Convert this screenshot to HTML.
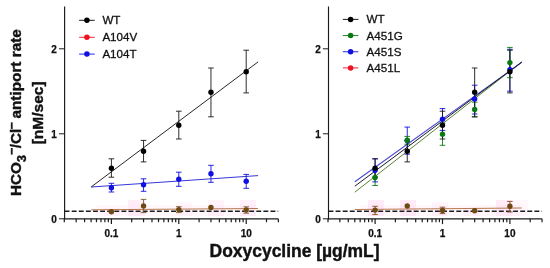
<!DOCTYPE html>
<html><head><meta charset="utf-8"><title>chart</title>
<style>
html,body{margin:0;padding:0;background:#fff}
svg{display:block}
text{font-family:"Liberation Sans",Arial,sans-serif;fill:#111}
.tk{font-size:10px;font-weight:bold;stroke:#111;stroke-width:0.25px}
.lg{font-size:11.6px;stroke:#111;stroke-width:0.3px}
.yl{font-size:15.3px;font-weight:bold;stroke:#111;stroke-width:0.4px}
.sb{font-size:12.4px}
.xl{font-size:17.45px;font-weight:bold;stroke:#111;stroke-width:0.4px}
</style></head><body>
<svg width="550" height="268" viewBox="0 0 550 268">
<rect width="550" height="268" fill="#fff"/>
<rect x="96" y="205" width="160" height="11" fill="#ffd9f0" opacity="0.22"/>
<rect x="128" y="200" width="17" height="16" fill="#ffd9f0" opacity="0.45"/>
<rect x="240" y="200" width="16" height="16" fill="#ffd9f0" opacity="0.4"/>
<rect x="104" y="208" width="16" height="8" fill="#ffd9f0" opacity="0.2"/>
<rect x="176" y="202" width="16" height="14" fill="#ffd9f0" opacity="0.2"/>
<rect x="208" y="200" width="16" height="16" fill="#ffd9f0" opacity="0.3"/>
<rect x="360" y="205" width="160" height="11" fill="#ffd9f0" opacity="0.2"/>
<rect x="368" y="200" width="16" height="16" fill="#ffd9f0" opacity="0.5"/>
<rect x="400" y="200" width="16" height="16" fill="#ffd9f0" opacity="0.5"/>
<rect x="496" y="200" width="16" height="16" fill="#ffd9f0" opacity="0.5"/>
<rect x="512" y="200" width="16" height="16" fill="#ffd9f0" opacity="0.2"/>
<rect x="432" y="202" width="16" height="14" fill="#ffd9f0" opacity="0.25"/>
<rect x="464" y="208" width="16" height="8" fill="#ffd9f0" opacity="0.25"/>
<line x1="64.6" y1="6.5" x2="64.6" y2="219.3" stroke="#1a1a1a" stroke-width="1.15"/>
<line x1="64.1" y1="218.8" x2="278.2" y2="218.8" stroke="#1a1a1a" stroke-width="1.25"/>
<line x1="58.99999999999999" y1="218.8" x2="64.6" y2="218.8" stroke="#1a1a1a" stroke-width="1"/>
<text x="56.89999999999999" y="223.0" text-anchor="end" class="tk">0</text>
<line x1="58.99999999999999" y1="133.8" x2="64.6" y2="133.8" stroke="#1a1a1a" stroke-width="1"/>
<text x="56.89999999999999" y="138.0" text-anchor="end" class="tk">1</text>
<line x1="58.99999999999999" y1="48.80000000000001" x2="64.6" y2="48.80000000000001" stroke="#1a1a1a" stroke-width="1"/>
<text x="56.89999999999999" y="53.000000000000014" text-anchor="end" class="tk">2</text>
<line x1="64.29" y1="218.8" x2="64.29" y2="222.20000000000002" stroke="#1a1a1a" stroke-width="1.2"/>
<line x1="76.16" y1="218.8" x2="76.16" y2="222.20000000000002" stroke="#1a1a1a" stroke-width="1.2"/>
<line x1="84.58" y1="218.8" x2="84.58" y2="222.20000000000002" stroke="#1a1a1a" stroke-width="1.2"/>
<line x1="91.11" y1="218.8" x2="91.11" y2="222.20000000000002" stroke="#1a1a1a" stroke-width="1.2"/>
<line x1="96.45" y1="218.8" x2="96.45" y2="222.20000000000002" stroke="#1a1a1a" stroke-width="1.2"/>
<line x1="100.96" y1="218.8" x2="100.96" y2="222.20000000000002" stroke="#1a1a1a" stroke-width="1.2"/>
<line x1="104.87" y1="218.8" x2="104.87" y2="222.20000000000002" stroke="#1a1a1a" stroke-width="1.2"/>
<line x1="108.32" y1="218.8" x2="108.32" y2="222.20000000000002" stroke="#1a1a1a" stroke-width="1.2"/>
<line x1="111.40" y1="218.8" x2="111.40" y2="224.10000000000002" stroke="#1a1a1a" stroke-width="1.2"/>
<line x1="131.69" y1="218.8" x2="131.69" y2="222.20000000000002" stroke="#1a1a1a" stroke-width="1.2"/>
<line x1="143.56" y1="218.8" x2="143.56" y2="222.20000000000002" stroke="#1a1a1a" stroke-width="1.2"/>
<line x1="151.98" y1="218.8" x2="151.98" y2="222.20000000000002" stroke="#1a1a1a" stroke-width="1.2"/>
<line x1="158.51" y1="218.8" x2="158.51" y2="222.20000000000002" stroke="#1a1a1a" stroke-width="1.2"/>
<line x1="163.85" y1="218.8" x2="163.85" y2="222.20000000000002" stroke="#1a1a1a" stroke-width="1.2"/>
<line x1="168.36" y1="218.8" x2="168.36" y2="222.20000000000002" stroke="#1a1a1a" stroke-width="1.2"/>
<line x1="172.27" y1="218.8" x2="172.27" y2="222.20000000000002" stroke="#1a1a1a" stroke-width="1.2"/>
<line x1="175.72" y1="218.8" x2="175.72" y2="222.20000000000002" stroke="#1a1a1a" stroke-width="1.2"/>
<line x1="178.80" y1="218.8" x2="178.80" y2="224.10000000000002" stroke="#1a1a1a" stroke-width="1.2"/>
<line x1="199.09" y1="218.8" x2="199.09" y2="222.20000000000002" stroke="#1a1a1a" stroke-width="1.2"/>
<line x1="210.96" y1="218.8" x2="210.96" y2="222.20000000000002" stroke="#1a1a1a" stroke-width="1.2"/>
<line x1="219.38" y1="218.8" x2="219.38" y2="222.20000000000002" stroke="#1a1a1a" stroke-width="1.2"/>
<line x1="225.91" y1="218.8" x2="225.91" y2="222.20000000000002" stroke="#1a1a1a" stroke-width="1.2"/>
<line x1="231.25" y1="218.8" x2="231.25" y2="222.20000000000002" stroke="#1a1a1a" stroke-width="1.2"/>
<line x1="235.76" y1="218.8" x2="235.76" y2="222.20000000000002" stroke="#1a1a1a" stroke-width="1.2"/>
<line x1="239.67" y1="218.8" x2="239.67" y2="222.20000000000002" stroke="#1a1a1a" stroke-width="1.2"/>
<line x1="243.12" y1="218.8" x2="243.12" y2="222.20000000000002" stroke="#1a1a1a" stroke-width="1.2"/>
<line x1="246.20" y1="218.8" x2="246.20" y2="224.10000000000002" stroke="#1a1a1a" stroke-width="1.2"/>
<line x1="266.49" y1="218.8" x2="266.49" y2="222.20000000000002" stroke="#1a1a1a" stroke-width="1.2"/>
<line x1="278.36" y1="218.8" x2="278.36" y2="222.20000000000002" stroke="#1a1a1a" stroke-width="1.2"/>
<text x="111.40" y="236.5" text-anchor="middle" class="tk">0.1</text>
<text x="178.80" y="236.5" text-anchor="middle" class="tk">1</text>
<text x="246.20" y="236.5" text-anchor="middle" class="tk">10</text>
<line x1="64.6" y1="211.2" x2="278.2" y2="211.2" stroke="#1c1c1c" stroke-width="1.4" stroke-dasharray="4.9 2.2"/>
<line x1="91.11" y1="209.8" x2="258.07" y2="208.5" stroke="#b06a3a" stroke-width="0.9"/>
<path d="M143.56 199.4 V212.6 M140.76 199.4 H146.36 M140.76 212.6 H146.36" stroke="#7a5a30" stroke-width="0.9" fill="none"/>
<path d="M178.80 206.7 V212.6 M176.00 206.7 H181.60 M176.00 212.6 H181.60" stroke="#7a5a30" stroke-width="0.9" fill="none"/>
<path d="M246.20 206.8 V213.2 M243.40 206.8 H249.00 M243.40 213.2 H249.00" stroke="#7a5a30" stroke-width="0.9" fill="none"/>
<circle cx="111.40" cy="211.8" r="2.7" fill="#6e4a12"/>
<circle cx="143.56" cy="205.9" r="2.7" fill="#6e4a12"/>
<circle cx="178.80" cy="209.6" r="2.7" fill="#6e4a12"/>
<circle cx="210.96" cy="207.5" r="2.7" fill="#6e4a12"/>
<circle cx="246.20" cy="210" r="2.7" fill="#6e4a12"/>
<line x1="91.11" y1="187.0" x2="258.07" y2="175.6" stroke="#3636d6" stroke-width="1.0"/>
<path d="M111.40 183.3 V192 M108.60 183.3 H114.20 M108.60 192 H114.20" stroke="#1010e0" stroke-width="0.9" fill="none"/>
<path d="M143.56 178.8 V191.3 M140.76 178.8 H146.36 M140.76 191.3 H146.36" stroke="#1010e0" stroke-width="0.9" fill="none"/>
<path d="M178.80 172.2 V186.3 M176.00 172.2 H181.60 M176.00 186.3 H181.60" stroke="#1010e0" stroke-width="0.9" fill="none"/>
<path d="M210.96 165.3 V182.3 M208.16 165.3 H213.76 M208.16 182.3 H213.76" stroke="#1010e0" stroke-width="0.9" fill="none"/>
<path d="M246.20 174.4 V188.3 M243.40 174.4 H249.00 M243.40 188.3 H249.00" stroke="#1010e0" stroke-width="0.9" fill="none"/>
<circle cx="111.40" cy="187.7" r="2.7" fill="#1010e0"/>
<circle cx="143.56" cy="184.7" r="2.7" fill="#1010e0"/>
<circle cx="178.80" cy="179.3" r="2.7" fill="#1010e0"/>
<circle cx="210.96" cy="173.8" r="2.7" fill="#1010e0"/>
<circle cx="246.20" cy="181.3" r="2.7" fill="#1010e0"/>
<line x1="91.11" y1="187.0" x2="258.07" y2="61.9" stroke="#1c1c1c" stroke-width="0.95"/>
<path d="M111.40 158.8 V177.2 M108.60 158.8 H114.20 M108.60 177.2 H114.20" stroke="#161616" stroke-width="0.9" fill="none"/>
<path d="M143.56 140.4 V161.9 M140.76 140.4 H146.36 M140.76 161.9 H146.36" stroke="#161616" stroke-width="0.9" fill="none"/>
<path d="M178.80 111.2 V139 M176.00 111.2 H181.60 M176.00 139 H181.60" stroke="#161616" stroke-width="0.9" fill="none"/>
<path d="M210.96 68 V116.8 M208.16 68 H213.76 M208.16 116.8 H213.76" stroke="#161616" stroke-width="0.9" fill="none"/>
<path d="M246.20 50.2 V92.9 M243.40 50.2 H249.00 M243.40 92.9 H249.00" stroke="#161616" stroke-width="0.9" fill="none"/>
<circle cx="111.40" cy="168.2" r="2.7" fill="#000"/>
<circle cx="143.56" cy="151.3" r="2.7" fill="#000"/>
<circle cx="178.80" cy="125.2" r="2.7" fill="#000"/>
<circle cx="210.96" cy="92.3" r="2.7" fill="#000"/>
<circle cx="246.20" cy="71.7" r="2.7" fill="#000"/>
<line x1="79.10000000000001" y1="20.3" x2="94.7" y2="20.3" stroke="#000" stroke-width="0.9"/>
<circle cx="86.9" cy="20.3" r="2.75" fill="#000"/>
<text x="102.4" y="24.25" class="lg">WT</text>
<line x1="79.10000000000001" y1="37.3" x2="94.7" y2="37.3" stroke="#f01020" stroke-width="0.9"/>
<circle cx="86.9" cy="37.3" r="2.75" fill="#f01020"/>
<text x="102.4" y="41.25" class="lg">A104V</text>
<line x1="79.10000000000001" y1="54.1" x2="94.7" y2="54.1" stroke="#1010e0" stroke-width="0.9"/>
<circle cx="86.9" cy="54.1" r="2.75" fill="#1010e0"/>
<text x="102.4" y="58.050000000000004" class="lg">A104T</text>
<line x1="328.5" y1="6.5" x2="328.5" y2="219.3" stroke="#1a1a1a" stroke-width="1.15"/>
<line x1="328.0" y1="218.8" x2="541.9" y2="218.8" stroke="#1a1a1a" stroke-width="1.25"/>
<line x1="322.9" y1="218.8" x2="328.5" y2="218.8" stroke="#1a1a1a" stroke-width="1"/>
<text x="320.8" y="223.0" text-anchor="end" class="tk">0</text>
<line x1="322.9" y1="133.8" x2="328.5" y2="133.8" stroke="#1a1a1a" stroke-width="1"/>
<text x="320.8" y="138.0" text-anchor="end" class="tk">1</text>
<line x1="322.9" y1="48.80000000000001" x2="328.5" y2="48.80000000000001" stroke="#1a1a1a" stroke-width="1"/>
<text x="320.8" y="53.000000000000014" text-anchor="end" class="tk">2</text>
<line x1="327.99" y1="218.8" x2="327.99" y2="222.20000000000002" stroke="#1a1a1a" stroke-width="1.2"/>
<line x1="339.86" y1="218.8" x2="339.86" y2="222.20000000000002" stroke="#1a1a1a" stroke-width="1.2"/>
<line x1="348.28" y1="218.8" x2="348.28" y2="222.20000000000002" stroke="#1a1a1a" stroke-width="1.2"/>
<line x1="354.81" y1="218.8" x2="354.81" y2="222.20000000000002" stroke="#1a1a1a" stroke-width="1.2"/>
<line x1="360.15" y1="218.8" x2="360.15" y2="222.20000000000002" stroke="#1a1a1a" stroke-width="1.2"/>
<line x1="364.66" y1="218.8" x2="364.66" y2="222.20000000000002" stroke="#1a1a1a" stroke-width="1.2"/>
<line x1="368.57" y1="218.8" x2="368.57" y2="222.20000000000002" stroke="#1a1a1a" stroke-width="1.2"/>
<line x1="372.02" y1="218.8" x2="372.02" y2="222.20000000000002" stroke="#1a1a1a" stroke-width="1.2"/>
<line x1="375.10" y1="218.8" x2="375.10" y2="224.10000000000002" stroke="#1a1a1a" stroke-width="1.2"/>
<line x1="395.39" y1="218.8" x2="395.39" y2="222.20000000000002" stroke="#1a1a1a" stroke-width="1.2"/>
<line x1="407.26" y1="218.8" x2="407.26" y2="222.20000000000002" stroke="#1a1a1a" stroke-width="1.2"/>
<line x1="415.68" y1="218.8" x2="415.68" y2="222.20000000000002" stroke="#1a1a1a" stroke-width="1.2"/>
<line x1="422.21" y1="218.8" x2="422.21" y2="222.20000000000002" stroke="#1a1a1a" stroke-width="1.2"/>
<line x1="427.55" y1="218.8" x2="427.55" y2="222.20000000000002" stroke="#1a1a1a" stroke-width="1.2"/>
<line x1="432.06" y1="218.8" x2="432.06" y2="222.20000000000002" stroke="#1a1a1a" stroke-width="1.2"/>
<line x1="435.97" y1="218.8" x2="435.97" y2="222.20000000000002" stroke="#1a1a1a" stroke-width="1.2"/>
<line x1="439.42" y1="218.8" x2="439.42" y2="222.20000000000002" stroke="#1a1a1a" stroke-width="1.2"/>
<line x1="442.50" y1="218.8" x2="442.50" y2="224.10000000000002" stroke="#1a1a1a" stroke-width="1.2"/>
<line x1="462.79" y1="218.8" x2="462.79" y2="222.20000000000002" stroke="#1a1a1a" stroke-width="1.2"/>
<line x1="474.66" y1="218.8" x2="474.66" y2="222.20000000000002" stroke="#1a1a1a" stroke-width="1.2"/>
<line x1="483.08" y1="218.8" x2="483.08" y2="222.20000000000002" stroke="#1a1a1a" stroke-width="1.2"/>
<line x1="489.61" y1="218.8" x2="489.61" y2="222.20000000000002" stroke="#1a1a1a" stroke-width="1.2"/>
<line x1="494.95" y1="218.8" x2="494.95" y2="222.20000000000002" stroke="#1a1a1a" stroke-width="1.2"/>
<line x1="499.46" y1="218.8" x2="499.46" y2="222.20000000000002" stroke="#1a1a1a" stroke-width="1.2"/>
<line x1="503.37" y1="218.8" x2="503.37" y2="222.20000000000002" stroke="#1a1a1a" stroke-width="1.2"/>
<line x1="506.82" y1="218.8" x2="506.82" y2="222.20000000000002" stroke="#1a1a1a" stroke-width="1.2"/>
<line x1="509.90" y1="218.8" x2="509.90" y2="224.10000000000002" stroke="#1a1a1a" stroke-width="1.2"/>
<line x1="530.19" y1="218.8" x2="530.19" y2="222.20000000000002" stroke="#1a1a1a" stroke-width="1.2"/>
<line x1="542.06" y1="218.8" x2="542.06" y2="222.20000000000002" stroke="#1a1a1a" stroke-width="1.2"/>
<text x="375.10" y="236.5" text-anchor="middle" class="tk">0.1</text>
<text x="442.50" y="236.5" text-anchor="middle" class="tk">1</text>
<text x="509.90" y="236.5" text-anchor="middle" class="tk">10</text>
<line x1="328.5" y1="211.2" x2="541.9" y2="211.2" stroke="#1c1c1c" stroke-width="1.4" stroke-dasharray="4.9 2.2"/>
<line x1="354.81" y1="209.5" x2="521.77" y2="208.0" stroke="#b06a3a" stroke-width="0.9"/>
<line x1="354.81" y1="192.2" x2="521.77" y2="62.0" stroke="#5a8238" stroke-width="1.0"/>
<line x1="354.81" y1="181.8" x2="521.77" y2="62.4" stroke="#4a4ad4" stroke-width="1.1"/>
<line x1="354.81" y1="186.2" x2="521.77" y2="62.0" stroke="#1a1a2a" stroke-width="1.0"/>
<path d="M375.10 206.3 V214.6 M372.30 206.3 H377.90 M372.30 214.6 H377.90" stroke="#8a4a28" stroke-width="0.9" fill="none"/>
<path d="M442.50 207.2 V213.6 M439.70 207.2 H445.30 M439.70 213.6 H445.30" stroke="#8a4a28" stroke-width="0.9" fill="none"/>
<path d="M509.90 201.4 V212 M507.10 201.4 H512.70 M507.10 212 H512.70" stroke="#8a4a28" stroke-width="0.9" fill="none"/>
<circle cx="375.10" cy="210.1" r="2.7" fill="#6e4a12"/>
<circle cx="407.26" cy="206" r="2.7" fill="#6e4a12"/>
<circle cx="442.50" cy="210.5" r="2.7" fill="#6e4a12"/>
<circle cx="474.66" cy="210.8" r="2.7" fill="#6e4a12"/>
<circle cx="509.90" cy="206.3" r="2.7" fill="#6e4a12"/>
<path d="M375.10 158.8 V181.9 M372.30 158.8 H377.90 M372.30 181.9 H377.90" stroke="#1010e0" stroke-width="0.9" fill="none"/>
<path d="M407.26 127.1 V154.2 M404.46 127.1 H410.06 M404.46 154.2 H410.06" stroke="#1010e0" stroke-width="0.9" fill="none"/>
<path d="M442.50 108.6 V130.4 M439.70 108.6 H445.30 M439.70 130.4 H445.30" stroke="#1010e0" stroke-width="0.9" fill="none"/>
<path d="M474.66 85.2 V114 M471.86 85.2 H477.46 M471.86 114 H477.46" stroke="#1010e0" stroke-width="0.9" fill="none"/>
<path d="M509.90 49.3 V91.2 M507.10 49.3 H512.70 M507.10 91.2 H512.70" stroke="#1010e0" stroke-width="0.9" fill="none"/>
<path d="M375.10 169.6 V185.5 M372.30 169.6 H377.90 M372.30 185.5 H377.90" stroke="#0a7a10" stroke-width="0.9" fill="none"/>
<path d="M407.26 136.4 V144.2 M404.46 136.4 H410.06 M404.46 144.2 H410.06" stroke="#0a7a10" stroke-width="0.9" fill="none"/>
<path d="M442.50 123 V145.3 M439.70 123 H445.30 M439.70 145.3 H445.30" stroke="#0a7a10" stroke-width="0.9" fill="none"/>
<path d="M474.66 102.2 V116.9 M471.86 102.2 H477.46 M471.86 116.9 H477.46" stroke="#0a7a10" stroke-width="0.9" fill="none"/>
<path d="M509.90 47.4 V77.7 M507.10 47.4 H512.70 M507.10 77.7 H512.70" stroke="#0a7a10" stroke-width="0.9" fill="none"/>
<path d="M375.10 158.8 V177.2 M372.30 158.8 H377.90 M372.30 177.2 H377.90" stroke="#161616" stroke-width="0.9" fill="none"/>
<path d="M407.26 140.4 V161.9 M404.46 140.4 H410.06 M404.46 161.9 H410.06" stroke="#161616" stroke-width="0.9" fill="none"/>
<path d="M442.50 111.2 V139 M439.70 111.2 H445.30 M439.70 139 H445.30" stroke="#161616" stroke-width="0.9" fill="none"/>
<path d="M474.66 68 V116.8 M471.86 68 H477.46 M471.86 116.8 H477.46" stroke="#161616" stroke-width="0.9" fill="none"/>
<path d="M509.90 50.2 V92.9 M507.10 50.2 H512.70 M507.10 92.9 H512.70" stroke="#161616" stroke-width="0.9" fill="none"/>
<circle cx="375.10" cy="170.3" r="2.7" fill="#1010e0"/>
<circle cx="407.26" cy="140.6" r="2.7" fill="#1010e0"/>
<circle cx="442.50" cy="119.3" r="2.7" fill="#1010e0"/>
<circle cx="474.66" cy="99" r="2.7" fill="#1010e0"/>
<circle cx="509.90" cy="69.8" r="2.7" fill="#1010e0"/>
<circle cx="375.10" cy="177.5" r="2.7" fill="#0a7a10"/>
<circle cx="407.26" cy="140.2" r="2.7" fill="#0a7a10"/>
<circle cx="442.50" cy="134.2" r="2.7" fill="#0a7a10"/>
<circle cx="474.66" cy="109.5" r="2.7" fill="#0a7a10"/>
<circle cx="509.90" cy="62.6" r="2.7" fill="#0a7a10"/>
<circle cx="375.10" cy="168.2" r="2.7" fill="#000"/>
<circle cx="407.26" cy="151.3" r="2.7" fill="#000"/>
<circle cx="442.50" cy="125.2" r="2.7" fill="#000"/>
<circle cx="474.66" cy="92.3" r="2.7" fill="#000"/>
<circle cx="509.90" cy="71.7" r="2.7" fill="#000"/>
<line x1="342.8" y1="19.4" x2="358.40000000000003" y2="19.4" stroke="#000" stroke-width="0.9"/>
<circle cx="350.6" cy="19.4" r="2.75" fill="#000"/>
<text x="366.6" y="23.349999999999998" class="lg">WT</text>
<line x1="342.8" y1="35.55" x2="358.40000000000003" y2="35.55" stroke="#0a7a10" stroke-width="0.9"/>
<circle cx="350.6" cy="35.55" r="2.75" fill="#0a7a10"/>
<text x="366.6" y="39.5" class="lg">A451G</text>
<line x1="342.8" y1="51.75" x2="358.40000000000003" y2="51.75" stroke="#1010e0" stroke-width="0.9"/>
<circle cx="350.6" cy="51.75" r="2.75" fill="#1010e0"/>
<text x="366.6" y="55.7" class="lg">A451S</text>
<line x1="342.8" y1="67.9" x2="358.40000000000003" y2="67.9" stroke="#f01020" stroke-width="0.9"/>
<circle cx="350.6" cy="67.9" r="2.75" fill="#f01020"/>
<text x="366.6" y="71.85000000000001" class="lg">A451L</text>
<text class="yl" transform="translate(21.3 196.0) rotate(-90)">HCO<tspan class="sb" dy="4.6">3</tspan><tspan class="sb" dy="-9.75">−</tspan><tspan dy="5.15" dx="-0.5">/Cl</tspan><tspan class="sb" dy="-5.15" dx="-0.6">−</tspan><tspan dy="5.15" dx="-0.6"> antiport rate</tspan></text>
<text class="yl" style="font-size:15.5px" transform="translate(43.2 144.3) rotate(-90)">[nM/sec]</text>
<text class="xl" x="209.6" y="257.3">Doxycycline [µg/mL]</text>
</svg>
</body></html>
